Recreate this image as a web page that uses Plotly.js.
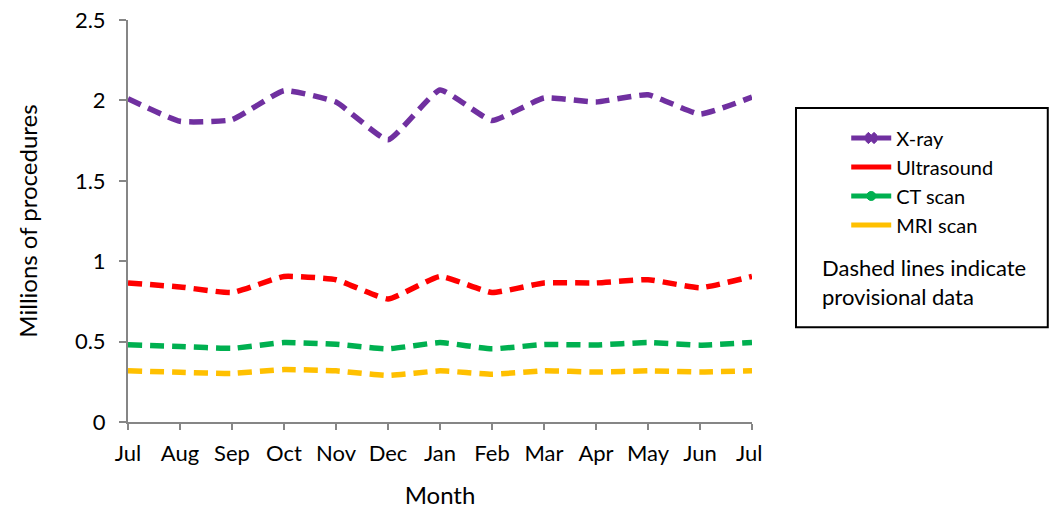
<!DOCTYPE html>
<html>
<head>
<meta charset="utf-8">
<script src="https://cdn.plot.ly/plotly-3.0.1.min.js"></script>
<style>
	html, body {margin: 0; padding: 0; background: #fff;}
	#chart {width: 1050px; height: 509px;}
</style>
</head>
<body>
<div id="chart"></div>
<script>
// months along the x axis (Jul to Jul)
const months = ['Jul', 'Aug', 'Sep', 'Oct', 'Nov', 'Dec', 'Jan', 'Feb', 'Mar', 'Apr', 'May', 'Jun', 'Jul '];

// millions of procedures
const xray = [2.01, 1.87, 1.88, 2.06, 1.99, 1.755, 2.065, 1.875, 2.015, 1.99, 2.035, 1.915, 2.02];
const ultrasound = [0.865, 0.84, 0.805, 0.905, 0.885, 0.765, 0.905, 0.805, 0.865, 0.865, 0.885, 0.835, 0.905];
const ct_scan = [0.48, 0.47, 0.458, 0.494, 0.483, 0.455, 0.494, 0.455, 0.482, 0.479, 0.494, 0.478, 0.494];
const mri_scan = [0.319, 0.309, 0.302, 0.326, 0.318, 0.289, 0.318, 0.297, 0.318, 0.311, 0.318, 0.311, 0.319];

const series = [
	{name: 'X-ray', values: xray, color: '#7030A0', symbol: 'x', msize: 10},
	{name: 'Ultrasound', values: ultrasound, color: '#FF0000', symbol: null},
	{name: 'CT scan', values: ct_scan, color: '#00B050', symbol: 'circle', msize: 9},
	{name: 'MRI scan', values: mri_scan, color: '#FFC000', symbol: null}
];

const font_family = 'Lato, "Open Sans", sans-serif';

let chart_data = [];

// dashed (provisional) lines
series.forEach(s => {
	chart_data.push({
		x: months,
		y: s.values,
		name: s.name,
		mode: 'lines',
		showlegend: false,
		hoverinfo: 'x+y',
		line: {
			color: s.color,
			width: 5.5,
			dash: '14px,8px',
			shape: 'spline',
			smoothing: 0.4
		}
	});
});

// legend entries use solid lines, as in the original
series.forEach(s => {
	let trace = {
		x: [null],
		y: [null],
		name: s.name,
		mode: 'lines',
		line: {color: s.color, width: 5}
	};
	if (s.symbol) {
		trace.mode = 'lines+markers';
		trace.marker = {symbol: s.symbol, size: s.msize, color: s.color, line: {color: s.color, width: 1}};
	}
	chart_data.push(trace);
});

const chart_layout = {
	width: 1050,
	height: 509,
	paper_bgcolor: '#fff',
	plot_bgcolor: '#fff',
	font: {family: font_family, size: 22, color: '#000'},
	margin: {l: 128, r: 298, t: 20, b: 87},
	showlegend: true,
	legend: {
		x: 1.151,
		y: 0.755,
		xanchor: 'left',
		yanchor: 'top',
		bgcolor: 'rgba(0,0,0,0)',
		borderwidth: 0,
		tracegroupgap: 0,
		itemwidth: 40,
		font: {family: font_family, size: 20, color: '#000'}
	},
	xaxis: {
		type: 'category',
		range: [0, 12],
		showgrid: false,
		zeroline: false,
		showline: true,
		linecolor: '#868686',
		linewidth: 2,
		ticks: 'outside',
		ticklen: 6,
		tickwidth: 2,
		tickcolor: '#868686',
		ticklabelstandoff: 5,
		tickfont: {size: 22},
		title: {text: 'Month', font: {size: 24}, standoff: 23}
	},
	yaxis: {
		range: [0, 2.5],
		dtick: 0.5,
		showgrid: false,
		zeroline: false,
		showline: true,
		linecolor: '#868686',
		linewidth: 2,
		ticks: 'outside',
		ticklen: 7,
		tickwidth: 2,
		tickcolor: '#868686',
		ticklabelstandoff: 9,
		tickfont: {size: 22},
		title: {text: 'Millions of procedures', font: {size: 24}, standoff: 30}
	},
	shapes: [{
		type: 'rect',
		xref: 'paper',
		yref: 'paper',
		x0: 1.0705,
		x1: 1.474,
		y0: 0.236,
		y1: 0.781,
		line: {color: '#000', width: 2},
		fillcolor: 'rgba(0,0,0,0)'
	}],
	annotations: [{
		xref: 'paper',
		yref: 'paper',
		x: 1.109,
		y: 0.3495,
		xanchor: 'left',
		yanchor: 'middle',
		align: 'left',
		showarrow: false,
		text: 'Dashed lines indicate<br>provisional data',
		font: {family: font_family, size: 22, color: '#000'}
	}]
};

Plotly.newPlot('chart', chart_data, chart_layout, {displayModeBar: false, staticPlot: true});
</script>
</body>
</html>
